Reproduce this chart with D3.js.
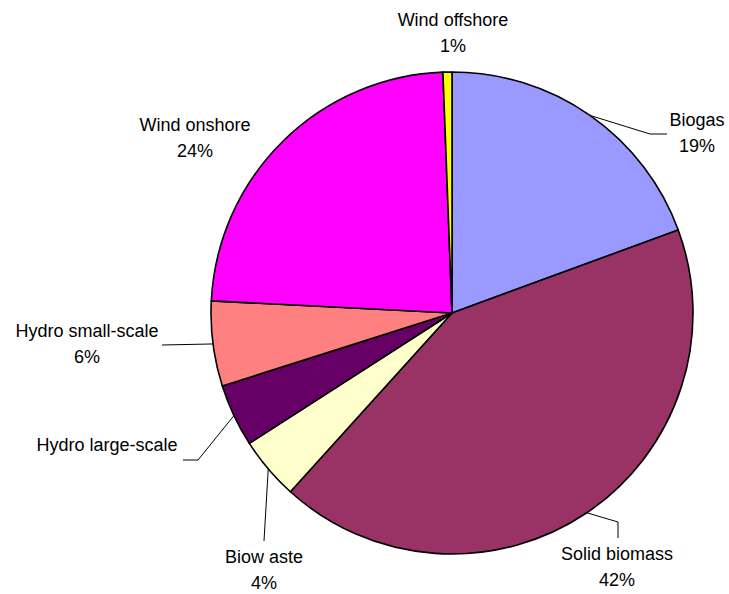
<!DOCTYPE html>
<html>
<head>
<meta charset="utf-8">
<script src="https://cdn.jsdelivr.net/npm/d3@7"></script>
<style>
  html, body { margin: 0; padding: 0; background: #fff; }
  svg { display: block; }
</style>
</head>
<body>
<svg id="chart" width="729" height="594"></svg>
<script>
// Renewable electricity sources, share of total (%)
const categories = ["Biogas", "Solid biomass", "Biow aste", "Hydro large-scale", "Hydro small-scale", "Wind onshore", "Wind offshore"];
const shares     = [19.4, 42.3, 4.2, 4.2, 5.7, 23.6, 0.6];
const colors     = ["#9999FF", "#993366", "#FFFFCC", "#660066", "#FF8080", "#FF00FF", "#FFFF00"];
const showPct    = [true, true, true, false, true, true, true];

// Label anchor (text centre x, first baseline y) and leader line bends
const labelPos = [
  { x: 697, y: 126, bends: [[650, 134], [667, 134]] },
  { x: 617, y: 560, bends: [[618, 522], [618, 538]] },
  { x: 264, y: 563, bends: [[265, 524], [264, 541]] },
  { x: 107, y: 451, bends: [[198, 460], [183, 460]] },
  { x: 87,  y: 337, bends: [[162, 345]] },
  { x: 195, y: 131, bends: [] },
  { x: 453, y: 26,  bends: [] }
];

const cx = 452, cy = 313, R = 241;
const svg = d3.select("#chart");
const g = svg.append("g").attr("transform", `translate(${cx},${cy})`);

const data = categories.map((c, i) => ({ name: c, value: shares[i], color: colors[i], pct: showPct[i], pos: labelPos[i] }));
const total = d3.sum(shares);

const pie = d3.pie().value(d => d.value).sort(null).startAngle(0).endAngle(2 * Math.PI);
const arcs = pie(data);
const arc = d3.arc().innerRadius(0).outerRadius(R);

g.selectAll("path.slice")
  .data(arcs)
  .join("path")
  .attr("class", "slice")
  .attr("d", arc)
  .attr("fill", d => d.data.color)
  .attr("stroke", "#000")
  .attr("stroke-width", 1.6)
  .attr("stroke-linejoin", "round");

// Leader lines from slice edge midpoint
const line = d3.line();
svg.selectAll("path.leader")
  .data(arcs.filter(d => d.data.pos.bends.length))
  .join("path")
  .attr("class", "leader")
  .attr("d", d => {
    const a = (d.startAngle + d.endAngle) / 2;
    const start = [cx + R * Math.sin(a), cy - R * Math.cos(a)];
    return line([start, ...d.data.pos.bends]);
  })
  .attr("fill", "none")
  .attr("stroke", "#000")
  .attr("stroke-width", 1);

// Labels
const labels = svg.selectAll("text.label")
  .data(arcs)
  .join("text")
  .attr("class", "label")
  .attr("text-anchor", "middle")
  .attr("font-family", "'Liberation Sans', Arial, sans-serif")
  .attr("font-size", 18)
  .attr("fill", "#000");

labels.append("tspan")
  .attr("x", d => d.data.pos.x)
  .attr("y", d => d.data.pos.y)
  .text(d => d.data.name);

labels.filter(d => d.data.pct)
  .append("tspan")
  .attr("x", d => d.data.pos.x)
  .attr("y", d => d.data.pos.y + 25.5)
  .text(d => Math.round(d.data.value / total * 100) + "%");
</script>
</body>
</html>
